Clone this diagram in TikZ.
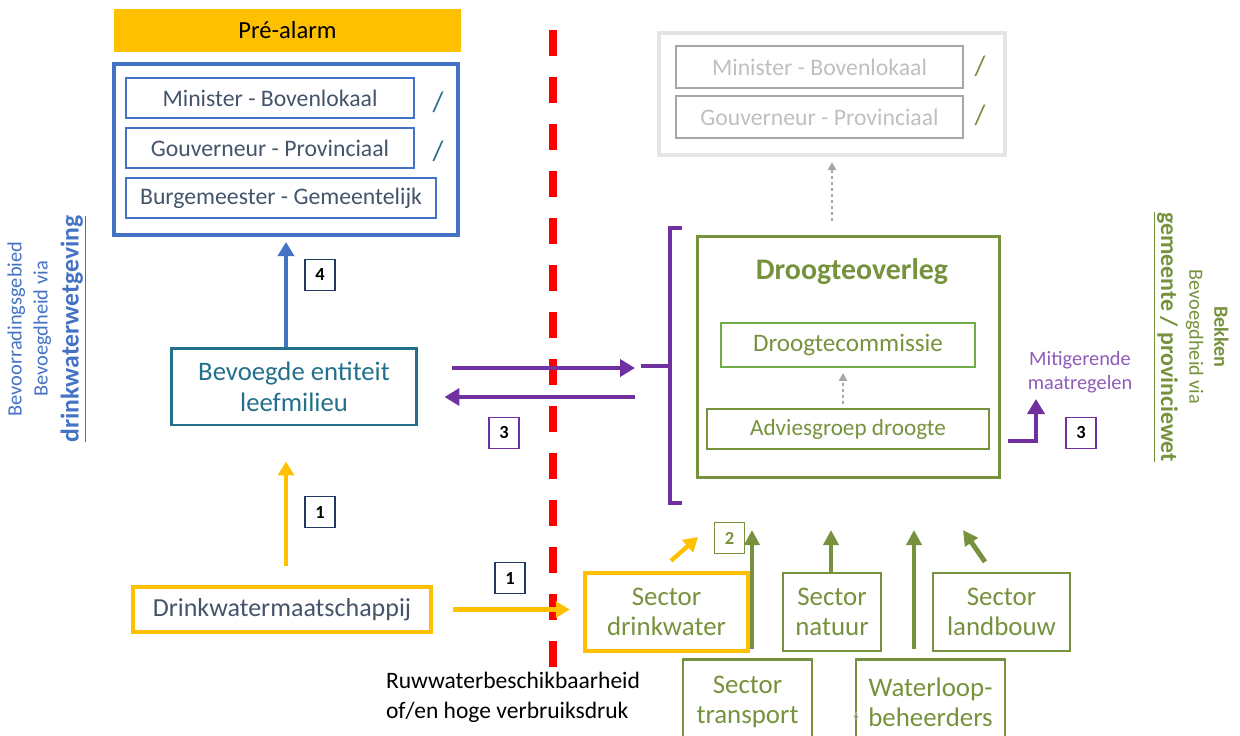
\documentclass[tikz,border=0pt]{standalone}
\usepackage{fontspec}
\setmainfont{Carlito}
\usepackage{tikz}
\usetikzlibrary{arrows.meta}
\definecolor{alarm}{HTML}{FFC000}
\definecolor{frameblue}{HTML}{4472C4}
\definecolor{slate}{HTML}{44546A}
\definecolor{tealc}{HTML}{23708C}
\definecolor{navy}{HTML}{1F3864}
\definecolor{purp}{HTML}{7030A0}
\definecolor{lightpurp}{HTML}{8E5CB8}
\definecolor{olive}{HTML}{76923C}
\definecolor{lgreen}{HTML}{70AD47}
\definecolor{greyframe}{HTML}{E4E4E4}
\definecolor{greyline}{HTML}{A6A6A6}
\definecolor{greytext}{HTML}{BFBFBF}

\begin{document}
\begin{tikzpicture}[x=0.02cm, y=-0.02cm,
    lvlbox/.style={draw=frameblue, line width=1.4pt, minimum height=0.8cm, inner sep=0pt,
      text=slate, font=\fontsize{13.5}{15}\selectfont},
    greybox/.style={draw=greyline, line width=1.3pt, minimum width=5.74cm, minimum height=0.84cm,
      inner sep=0pt, text=greytext, font=\fontsize{13.5}{15}\selectfont},
    sectorbox/.style={draw=olive, line width=1.3pt, minimum height=1.56cm, inner sep=0pt,
      align=center, text=olive, font=\fontsize{15.3}{17}\selectfont},
    numbox/.style={draw, line width=1pt, minimum width=0.6cm, minimum height=0.62cm,
      inner sep=0pt, font=\bfseries\fontsize{10.5}{11}\selectfont},
    bluearr/.style={draw=frameblue, line width=2.8pt, -{Triangle[length=0.28cm,width=0.32cm]}},
    yelarr/.style={draw=alarm, line width=2.5pt, -{Triangle[length=0.28cm,width=0.32cm]}},
    purparr/.style={draw=purp, line width=2.3pt, -{Triangle[length=0.3cm,width=0.34cm]}},
    grarr/.style={draw=olive, line width=2.8pt, -{Triangle[length=0.3cm,width=0.3cm]}},
    greyarr/.style={draw=greyline, line width=1.4pt, dotted, -{Triangle[length=0.16cm,width=0.16cm]}}]

\useasboundingbox (0,0) rectangle (1240,735);

% Left column: pre-alarm and competent levels
\node[fill=alarm, minimum width=6.94cm, minimum height=0.86cm, inner sep=0pt,
  font=\fontsize{14}{16}\selectfont] (prealarm) at (287.5,30.5) {Pré-alarm};
\node[draw=frameblue, line width=2.3pt, minimum width=6.88cm, minimum height=3.42cm] (blueframe) at (286,149.5) {};
\node[lvlbox, minimum width=5.76cm] (minister) at (270,98) {Minister - Bovenlokaal};
\node[lvlbox, minimum width=5.76cm] (gouv) at (270,148) {Gouverneur - Provinciaal};
\node[lvlbox, minimum width=6.2cm] (burg) at (281,198) {Burgemeester - Gemeentelijk};
\node[text=tealc, font=\fontsize{16}{18}\selectfont] (slashA) at (438,102) {/};
\node[text=tealc, font=\fontsize{16}{18}\selectfont] (slashB) at (438,151) {/};

% Competent entity and drinking water company
\node[draw=tealc, line width=1.7pt, minimum width=4.92cm, minimum height=1.54cm, inner sep=0pt,
  align=center, text=tealc, font=\fontsize{15.2}{17.6}\selectfont] (bevoegd) at (294,386.5)
  {Bevoegde entiteit\\leefmilieu};
\node[draw=alarm, line width=2.5pt, minimum width=5.96cm, minimum height=0.9cm, inner sep=0pt,
  text=slate, font=\fontsize{14.8}{16}\selectfont] (drinkw) at (282,609.5) {Drinkwatermaatschappij};

\node[numbox, draw=navy] (nr4) at (320,275) {4};
\node[numbox, draw=navy] (nr1a) at (320,512) {1};
\node[numbox, draw=navy] (nr1b) at (510,578) {1};
\node[numbox, draw=purp] (nr3a) at (504,433) {3};

\draw[bluearr, shorten >=0.1cm] (bevoegd.north -| blueframe.south) -- (blueframe.south);
\draw[yelarr, shorten <=0.38cm, shorten >=0.7cm] (drinkw.north -| blueframe.south) -- (bevoegd.south -| blueframe.south);

% Red dashed border
\draw[red, line width=4pt, dash pattern=on 0.52cm off 0.42cm] (553,30) -- (553,670);
\node[align=left, font=\fontsize{13.4}{17}\selectfont] (ruw) at (513,697)
  {Ruwwaterbeschikbaarheid\\of/en hoge verbruiksdruk};

% Grey levels top right
\node[draw=greyframe, line width=2.3pt, minimum width=6.92cm, minimum height=2.44cm] (greyframe) at (832,94) {};
\node[greybox] (gminister) at (819.5,67) {Minister - Bovenlokaal};
\node[greybox] (ggouv) at (819.5,117) {Gouverneur - Provinciaal};
\node[text=olive, font=\fontsize{16}{18}\selectfont] (slashC) at (980,66) {/};
\node[text=olive, font=\fontsize{16}{18}\selectfont] (slashD) at (980,115) {/};

% Droogteoverleg
\node[draw=olive, line width=1.7pt, minimum width=6.06cm, minimum height=4.84cm] (droog) at (848.5,357) {};
\node[text=olive, font=\bfseries\fontsize{17}{19}\selectfont] (droogtitle) at (852,272) {Droogteoverleg};
\node[draw=lgreen, line width=1pt, minimum width=5.08cm, minimum height=0.88cm, inner sep=0pt,
  text=olive, font=\fontsize{14.3}{16}\selectfont] (comm) at (848,345) {Droogtecommissie};
\node[draw=olive, line width=1.3pt, minimum width=5.64cm, minimum height=0.8cm, inner sep=0pt,
  text=olive, font=\fontsize{13.2}{15}\selectfont] (advies) at (848,429) {Adviesgroep droogte};
\draw[greyarr, shorten <=0.08cm, shorten >=0.1cm] ([xshift=-0.1cm]advies.north) -- ([xshift=-0.1cm]comm.south);
\draw[greyarr, shorten <=0.28cm, shorten >=0.1cm] (greyframe.south |- droog.north) -- (greyframe.south);

% Purple bracket and exchange
\coordinate (brkmid) at (670,366);
\coordinate (inR) at (635,368);
\coordinate (inL) at (635,397);
\draw[purp, line width=2.3pt] (682,228) -- (670,228) -- (670,503) -- (682,503);
\draw[purp, line width=2.3pt] (641,366) -- (brkmid);
\draw[purparr, shorten <=0.68cm] (bevoegd.east |- inR) -- (inR);
\draw[purparr, shorten >=0.52cm] (inL) -- (bevoegd.east |- inL);

% Mitigating measures
\node[align=center, text=lightpurp, font=\fontsize{11.6}{13.6}\selectfont] (mitig) at (1080,372) {Mitigerende\\maatregelen};
\coordinate (mtip) at (1036,399);
\draw[purparr, shorten <=0.14cm] ([yshift=-1.68cm]droog.east) -| (mtip);
\node[numbox, draw=purp] (nr3b) at (1081,433) {3};

% Sectors
\node[sectorbox, draw=alarm, line width=2.5pt, minimum width=3.26cm] (sdrink) at (666.5,612) {Sector\\drinkwater};
\node[sectorbox, minimum width=1.96cm] (natur) at (832,612) {Sector\\natuur};
\node[sectorbox, minimum width=2.74cm] (landb) at (1001.5,612) {Sector\\landbouw};
\node[sectorbox, minimum width=2.58cm, minimum height=1.7cm] (transp) at (747.5,702) {Sector\\transport};
\node[sectorbox, minimum width=2.98cm, minimum height=1.7cm] (waterl) at (930.5,702) {Waterloop-\\beheerders};
\node[text=greytext, font=\fontsize{6}{7}\selectfont] (pagenr) at (856,716) {6};

\draw[yelarr, shorten <=0.4cm, shorten >=0.26cm] (drinkw.east) -- (drinkw.east -| sdrink.west);

\coordinate (tipT) at (752,530);
\coordinate (tipN) at (831,530);
\coordinate (tipW) at (914,530);
\coordinate (tipL) at (963,530);
\coordinate (tipD) at (698,537);
\draw[grarr, shorten <=0.18cm] (transp.north -| tipT) -- (tipT);
\draw[grarr] (natur.north -| tipN) -- (tipN);
\draw[grarr, shorten <=0.18cm] (waterl.north -| tipW) -- (tipW);
\draw[grarr] ([xshift=-0.33cm,yshift=0.2cm]landb.north) -- (tipL);
\draw[yelarr] ([xshift=0.09cm,yshift=0.2cm]sdrink.north) -- (tipD);
\node[numbox, draw=olive, text=olive] (nr2) at (729.5,538) {2};

% Side texts
\node[rotate=90, align=center, text=frameblue, font=\fontsize{11.6}{14.7}\selectfont] (lefttxt) at (47,329)
  {Bevoorradingsgebied\\Bevoegdheid via\\[3pt]{\bfseries\fontsize{14.6}{16}\selectfont\underline{drinkwaterwetgeving}}};
\node[rotate=-90, align=center, text=olive, font=\fontsize{11.5}{14.2}\selectfont] (righttxt) at (1191,337)
  {\textbf{Bekken}\\Bevoegdheid via\\[2pt]{\bfseries\fontsize{13.6}{15}\selectfont\underline{gemeente / provinciewet}}};
\end{tikzpicture}
\end{document}
